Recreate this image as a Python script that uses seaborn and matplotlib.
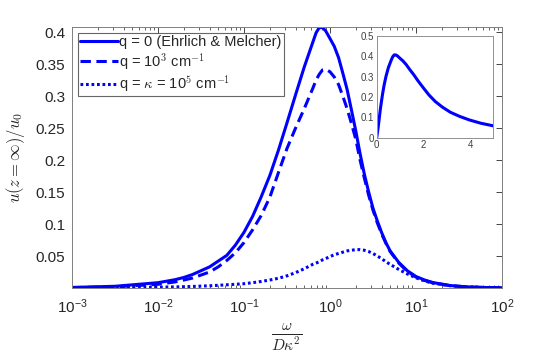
import numpy as np
import matplotlib
matplotlib.use("Agg")
import matplotlib.pyplot as plt
import seaborn as sns

sns.set_theme(style="white")
plt.rcParams['font.family'] = ['Liberation Sans', 'DejaVu Sans']
plt.rcParams['mathtext.fontset'] = 'cm'

# omega / (D kappa^2)
x_w = [0.001, 0.00316, 0.01, 0.0158, 0.02, 0.0251, 0.0398, 0.0501, 0.0631, 0.0794, 0.1, 0.126,
       0.158, 0.2, 0.251, 0.316, 0.398, 0.501, 0.631, 0.69, 0.75, 0.82, 0.891, 1.0, 1.12, 1.26,
       1.41, 1.585, 1.78, 2.0, 2.24, 2.51, 2.82, 3.16, 3.55, 3.98, 4.47, 5.01, 6.31, 7.94, 10,
       12.6, 15.8, 25.1, 39.8, 63.1, 100]

# q = 0 (Ehrlich & Melcher)
y_q0 = [0.0009, 0.0027, 0.0083, 0.013, 0.0165, 0.021, 0.033, 0.042, 0.051, 0.067, 0.087, 0.112,
        0.142, 0.176, 0.215, 0.258, 0.302, 0.345, 0.384, 0.399, 0.407, 0.407, 0.402, 0.39, 0.378,
        0.36, 0.336, 0.31, 0.278, 0.245, 0.21, 0.178, 0.15, 0.125, 0.105, 0.087, 0.071, 0.058,
        0.04, 0.027, 0.018, 0.0125, 0.0085, 0.0038, 0.0017, 0.0008, 0.0004]

# q = 1e3 cm^-1
y_q3 = [0.0006, 0.0018, 0.0058, 0.0095, 0.0125, 0.0155, 0.025, 0.033, 0.043, 0.055, 0.071, 0.091,
        0.113, 0.142, 0.18, 0.218, 0.25, 0.28, 0.312, 0.325, 0.334, 0.341, 0.342, 0.338, 0.33,
        0.318, 0.30, 0.28, 0.257, 0.232, 0.20, 0.172, 0.145, 0.122, 0.102, 0.085, 0.07, 0.057,
        0.039, 0.026, 0.017, 0.0118, 0.008, 0.0036, 0.0016, 0.0007, 0.0004]

# q = kappa = 1e5 cm^-1
y_q5 = [0.0002, 0.0005, 0.0013, 0.0017, 0.002, 0.0024, 0.0035, 0.0042, 0.005, 0.0058, 0.0067,
        0.0083, 0.0102, 0.0125, 0.0152, 0.019, 0.024, 0.03, 0.037, 0.039, 0.041, 0.044, 0.046,
        0.049, 0.052, 0.054, 0.056, 0.058, 0.059, 0.06, 0.06, 0.059, 0.057, 0.054, 0.05, 0.046,
        0.041, 0.037, 0.029, 0.022, 0.016, 0.011, 0.0075, 0.0035, 0.0016, 0.0008, 0.0004]

blue = (0, 0, 1)
fig = plt.figure(figsize=(5.54, 3.60), dpi=100)
ax = fig.add_axes([0.130, 0.200, 0.776, 0.725])

sns.lineplot(x=x_w, y=y_q0, ax=ax, color=blue, lw=2.2, label='q = 0 (Ehrlich & Melcher)')
sns.lineplot(x=x_w, y=y_q3, ax=ax, color=blue, lw=2.2, linestyle=(0, (3.4, 1.8)),
             label='q = 10$^3$ cm$^{-1}$')
sns.lineplot(x=x_w, y=y_q5, ax=ax, color=blue, lw=2.2, linestyle=(0, (0.9, 0.9)),
             label=r'q = $\kappa$ = 10$^5$ cm$^{-1}$')

ax.set_xscale('log')
ax.set_xlim(1e-3, 1e2)
ax.set_ylim(0, 0.408)
ax.set_yticks([0.05, 0.1, 0.15, 0.2, 0.25, 0.3, 0.35, 0.4])
ax.set_yticklabels(['0.05', '0.1', '0.15', '0.2', '0.25', '0.3', '0.35', '0.4'])
ax.tick_params(which='both', direction='in', top=True, right=True, labelsize=11,
               colors='#262626', pad=5)
ax.tick_params(axis='x', which='major', pad=7)
ax.tick_params(which='major', length=4, width=0.6)
ax.tick_params(which='minor', length=2.5, width=0.5, bottom=True, top=True)
for s in ax.spines.values():
    s.set_color('#808080')
    s.set_linewidth(0.7)
ax.set_xlabel(r'$\frac{\omega}{D\kappa^2}$', fontsize=16, labelpad=4)
ax.set_ylabel(r'$u(z=\infty)/u_0$', fontsize=12, labelpad=6)

leg = ax.legend(loc='upper left', fontsize=10.5, frameon=True, fancybox=False,
                handlelength=2.6, handletextpad=0.1, borderpad=0.15, labelspacing=0.12,
                borderaxespad=0.4)
leg.get_frame().set_edgecolor('#404040')
leg.get_frame().set_linewidth(0.8)

# inset, linear axis
xi = [0.0] + [v for v in x_w if v <= 5.1]
yi = [0.0] + [y_q0[i] for i, v in enumerate(x_w) if v <= 5.1]
axi = fig.add_axes([0.680, 0.6175, 0.2105, 0.2825])
sns.lineplot(x=xi, y=yi, ax=axi, color=blue, lw=2.2)
axi.set_xlim(0, 5)
axi.set_ylim(0, 0.5)
axi.set_xticks([0, 2, 4])
axi.set_yticks([0, 0.1, 0.2, 0.3, 0.4, 0.5])
axi.set_yticklabels(['0', '0.1', '0.2', '0.3', '0.4', '0.5'])
axi.tick_params(direction='in', labelsize=7, colors='#404040', length=2.5, width=0.5, pad=2)
for s in axi.spines.values():
    s.set_color('#909090')
    s.set_linewidth(0.7)

fig.savefig('out.png', dpi=100)
